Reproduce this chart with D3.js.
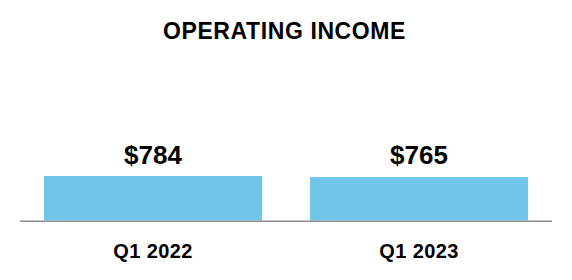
<!DOCTYPE html>
<html><head><meta charset="utf-8">
<script src="https://cdn.jsdelivr.net/npm/d3@7"></script>
<style>body{margin:0;background:#fff}svg{display:block}</style>
</head><body>
<script>
const title = "OPERATING INCOME";
const categories = ["Q1 2022", "Q1 2023"];
const values = [784, 765];
const valueLabels = ["$784", "$765"];

const W = 572, H = 280;
const svg = d3.select("body").append("svg").attr("width", W).attr("height", H);
const font = "'Liberation Sans', Arial, sans-serif";

const x = d3.scaleBand().domain(categories).range([20, 552]).paddingInner(0.18).paddingOuter(0.09);
const y = d3.scaleLinear().domain([0, 784]).range([220.5, 176]);

svg.append("text").attr("x", 284.5).attr("y", 38.5).attr("text-anchor", "middle")
  .attr("font-family", font).attr("font-weight", "bold").attr("font-size", 23)
  .attr("letter-spacing", 0.6).attr("fill", "#000").text(title);

svg.selectAll("rect.bar").data(values).join("rect").attr("class", "bar")
  .attr("x", (d, i) => x(categories[i])).attr("width", x.bandwidth())
  .attr("y", d => y(d)).attr("height", d => y(0) - y(d)).attr("fill", "#70C5E8");

svg.selectAll("text.val").data(values).join("text").attr("class", "val")
  .attr("x", (d, i) => x(categories[i]) + x.bandwidth() / 2).attr("y", 164)
  .attr("text-anchor", "middle").attr("font-family", font).attr("font-weight", "bold")
  .attr("font-size", 26).attr("fill", "#000").text((d, i) => valueLabels[i]);

svg.append("line").attr("x1", 20).attr("x2", 552).attr("y1", 221.2).attr("y2", 221.2)
  .attr("stroke", "#8c8c8c").attr("stroke-width", 1.6);

svg.selectAll("text.cat").data(categories).join("text").attr("class", "cat")
  .attr("x", d => x(d) + x.bandwidth() / 2).attr("y", 257.5)
  .attr("text-anchor", "middle").attr("font-family", font).attr("font-weight", "bold")
  .attr("font-size", 20).attr("letter-spacing", 0.4).attr("fill", "#000").text(d => d);
</script>
</body></html>
